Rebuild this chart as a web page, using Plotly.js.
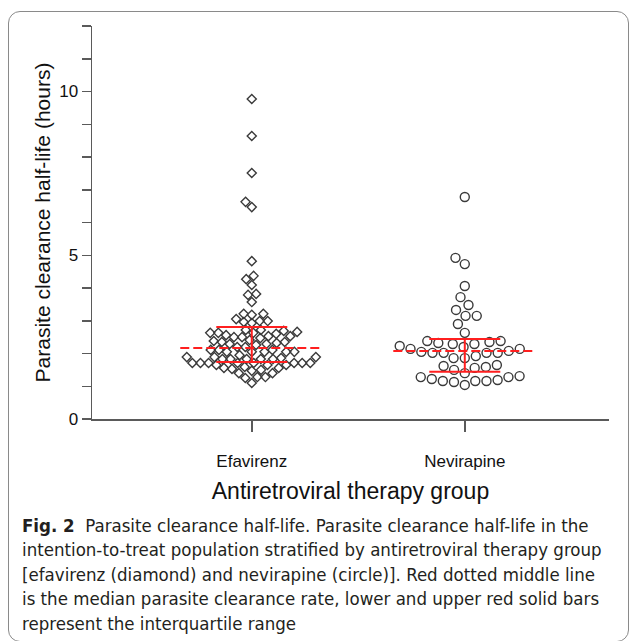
<!DOCTYPE html>
<html>
<head>
<meta charset="utf-8">
<script src="https://cdn.plot.ly/plotly-3.0.1.min.js"></script>
<style>
  html, body { margin: 0; padding: 0; background: #fff; overflow: hidden; }
  #wrap { position: relative; width: 629px; height: 641px; overflow: hidden; }
  #frame { position: absolute; left: 8px; top: 11px; width: 621px; height: 631px;
           border: 1.5px solid #8a8a8a; border-radius: 12px; box-sizing: border-box; }
  #chart { position: absolute; left: 0; top: 0; width: 629px; height: 641px; }
</style>
</head>
<body>
<div id="wrap">
  <div id="frame"></div>
  <div id="chart"></div>
</div>
<script>
// ---------------- data ----------------
const groups = ["Efavirenz", "Nevirapine"];

const efavirenz = [
  9.77, 8.64, 7.51, 6.63, 6.47, 4.82, 4.37, 4.27, 4.09, 3.82, 3.79, 3.57,
  3.21, 3.05, 2.99, 2.99, 3.18, 3.21, 2.93, 2.96, 2.72, 2.66, 2.69, 2.72,
  2.63, 2.60, 2.63, 2.63, 2.50, 2.53, 2.53, 2.56, 2.47, 2.41, 2.50, 2.38,
  2.35, 2.35, 2.32, 2.29, 2.20, 2.29, 2.26, 2.20, 2.11, 2.05, 2.05, 2.05,
  2.05, 2.05, 2.11, 2.11, 1.95, 1.89, 1.83, 1.83, 1.71, 1.71, 1.71, 1.65,
  1.71, 1.83, 1.89, 1.89, 1.83, 1.86, 1.83, 1.71, 1.65, 1.71, 1.71, 1.56,
  1.53, 1.65, 1.71, 1.56, 1.50, 1.59, 1.40, 1.28, 1.28, 1.40, 1.25, 1.47,
  1.10
];

const nevirapine = [
  6.78, 4.92, 4.73, 4.06, 3.72, 3.48, 3.33, 3.15, 3.15, 2.90, 2.63, 2.35,
  2.29, 2.38, 2.32, 2.38, 2.29, 2.20, 2.23, 2.14, 2.08, 2.14, 2.05, 2.02,
  2.02, 2.02, 2.02, 1.92, 1.86, 1.86, 1.65, 1.59, 1.50, 1.62, 1.40, 1.56,
  1.31, 1.28, 1.28, 1.16, 1.16, 1.16, 1.19, 1.13, 1.22, 1.04
];

const medians = [2.17, 2.08];
const q1 = [1.74, 1.44];
const q3 = [2.81, 2.44];

const yTickVals = [0,1,2,3,4,5,6,7,8,9,10,11,12];
const yTickText = ["0","","","","","5","","","","","10","",""];

const captionLines = [
  "<b>Fig. 2</b>  Parasite clearance half-life. Parasite clearance half-life in the",
  "intention-to-treat population stratified by antiretroviral therapy group",
  "[efavirenz (diamond) and nevirapine (circle)]. Red dotted middle line",
  "is the median parasite clearance rate, lower and upper red solid bars",
  "represent the interquartile range"
];

// ---------------- layout constants ----------------
const W = 629, H = 641;
const M = { l: 92, r: 20, t: 26, b: 222 };
const xRange = [-0.75, 1.677];
const yRange = [0, 12];
const plotW = W - M.l - M.r, plotH = H - M.t - M.b;
const pxPerX = plotW / (xRange[1] - xRange[0]);
const pxPerY = plotH / (yRange[1] - yRange[0]);

// beeswarm: offsets computed from values so markers don't overlap
function swarm(vals, minDistPx) {
  const order = vals.map((v, i) => i).sort((a, b) => vals[a] - vals[b]);
  const placed = [];
  const off = new Array(vals.length).fill(0);
  for (const i of order) {
    const y = vals[i] * pxPerY;
    const cands = [0];
    for (const p of placed) {
      const dy = Math.abs(p.y - y);
      if (dy < minDistPx) {
        const dx = Math.sqrt(minDistPx * minDistPx - dy * dy);
        cands.push(p.x + dx, p.x - dx);
      }
    }
    cands.sort((a, b) => Math.abs(a) - Math.abs(b) || a - b);
    let chosen = 0;
    for (const c of cands) {
      let ok = true;
      for (const p of placed) {
        const dx = p.x - c, dy = p.y - y;
        if (dx * dx + dy * dy < minDistPx * minDistPx - 0.01) { ok = false; break; }
      }
      if (ok) { chosen = c; break; }
    }
    placed.push({ x: chosen, y: y });
    off[i] = chosen / pxPerX;
  }
  return off;
}

const efOff = swarm(efavirenz, 8.1);
const nvOff = swarm(nevirapine, 11.2);

const pointColor = "#3a3a3a";
const red = "#ff1f1f";
const medHalf = 71.5 / pxPerX;
const iqrHalf = 35.5 / pxPerX;

const traces = [
  {
    type: "scatter", mode: "markers",
    x: efOff.map(o => 0 + o), y: efavirenz,
    marker: { symbol: "diamond-open", size: 7, color: pointColor, line: { width: 1.4, color: pointColor } },
    hoverinfo: "y", showlegend: false
  },
  {
    type: "scatter", mode: "markers",
    x: nvOff.map(o => 1 + o), y: nevirapine,
    marker: { symbol: "circle-open", size: 9, color: pointColor, line: { width: 1.4, color: pointColor } },
    hoverinfo: "y", showlegend: false
  }
];

groups.forEach((g, i) => {
  traces.push({
    type: "scatter", mode: "lines", x: [i - medHalf, i + medHalf], y: [medians[i], medians[i]],
    line: { color: red, width: 2, dash: "9px,4px" }, hoverinfo: "skip", showlegend: false
  });
  traces.push({
    type: "scatter", mode: "lines",
    x: [i - iqrHalf, i + iqrHalf, null, i - iqrHalf, i + iqrHalf, null, i, i],
    y: [q1[i], q1[i], null, q3[i], q3[i], null, q1[i], q3[i]],
    line: { color: red, width: 2 }, hoverinfo: "skip", showlegend: false
  });
});

function pxToPaperY(py) { return (H - M.b - py) / plotH; }
function pxToPaperX(px) { return (px - M.l) / plotW; }
const capTop = 525, capStep = 24.5;
const annotations = captionLines.map((t, k) => ({
  xref: "paper", yref: "paper",
  x: pxToPaperX(20), y: pxToPaperY(capTop + k * capStep),
  xanchor: "left", yanchor: "middle", showarrow: false, align: "left",
  text: t,
  font: { family: "DejaVu Sans Condensed, Liberation Sans Narrow, sans-serif", size: 18.5, color: "#231f20" }
}));

const axisColor = "#5a5a5a";
const layout = {
  width: W, height: H,
  margin: M,
  paper_bgcolor: "rgba(0,0,0,0)", plot_bgcolor: "rgba(0,0,0,0)",
  font: { family: "Liberation Sans, Arial, sans-serif", color: "#111" },
  xaxis: {
    range: xRange, showgrid: false, zeroline: false,
    showline: true, linecolor: axisColor, linewidth: 1.5,
    ticks: "outside", ticklen: 11, tickwidth: 1.5, tickcolor: axisColor,
    tickvals: [0, 1], ticktext: groups, ticklabelstandoff: 15,
    tickfont: { size: 17, color: "#111" },
    title: { text: "Antiretroviral therapy group", font: { size: 23, color: "#111" }, standoff: 13 },
    fixedrange: true
  },
  yaxis: {
    range: yRange, showgrid: false, zeroline: false,
    showline: true, linecolor: axisColor, linewidth: 1.5,
    ticks: "outside", ticklen: 9, tickwidth: 1.5, tickcolor: axisColor,
    tickvals: yTickVals, ticktext: yTickText,
    tickfont: { size: 17, color: "#111" },
    title: { text: "Parasite clearance half-life (hours)", font: { size: 21, color: "#111" }, standoff: 3 },
    fixedrange: true
  },
  annotations: annotations
};

Plotly.newPlot("chart", traces, layout, { displayModeBar: false, staticPlot: true });
</script>
</body>
</html>
